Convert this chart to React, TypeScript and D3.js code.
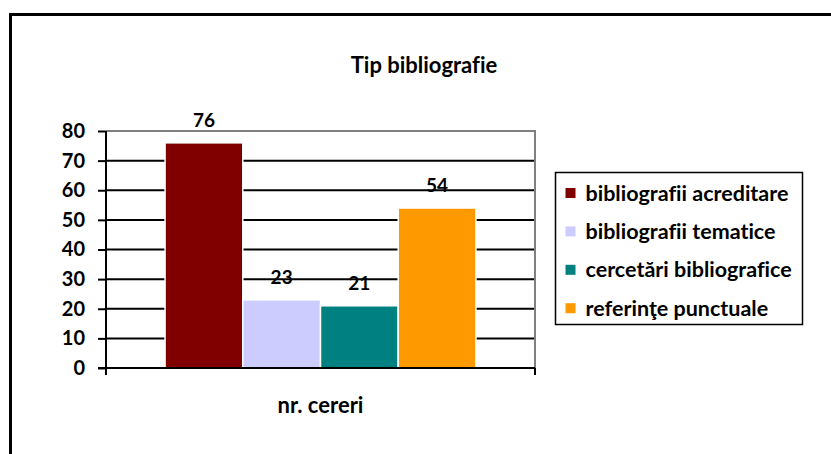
import * as d3 from 'd3';
import React, { useEffect, useRef } from 'react';

const categories = ['nr. cereri'];
const seriesNames = ['bibliografii acreditare', 'bibliografii tematice', 'cercetări bibliografice', 'referinţe punctuale'];
const seriesValues = [76, 23, 21, 54];
const seriesColors = ['#800000', '#CCCCFF', '#008080', '#FF9900'];
const yTicks = [0, 10, 20, 30, 40, 50, 60, 70, 80];

const FONT = 'Lato, "Open Sans", sans-serif';

const App: React.FC = () => {
    const svgRef = useRef<SVGSVGElement | null>(null);

    useEffect(() => {
        const width = 831;
        const height = 454;
        const margin = { top: 131, right: 296, bottom: 86, left: 106 };
        const plotW = width - margin.left - margin.right;
        const plotH = height - margin.top - margin.bottom;

        d3.select(svgRef.current).selectAll('*').remove();

        const svg = d3.select(svgRef.current)
            .attr('width', width)
            .attr('height', height)
            .style('font-family', FONT)
            .style('font-weight', 'bold')
            .style('font-variant-ligatures', 'none');

        // outer frame (runs off the right and bottom edges)
        svg.append('rect')
            .attr('x', 10.5).attr('y', 14.5)
            .attr('width', 900).attr('height', 500)
            .attr('fill', 'white')
            .attr('stroke', '#000')
            .attr('stroke-width', 3);

        svg.append('text')
            .attr('x', 424).attr('y', 73)
            .attr('text-anchor', 'middle')
            .style('font-size', '22px')
            .text('Tip bibliografie');

        const g = svg.append('g').attr('transform', `translate(${margin.left},${margin.top})`);

        const y = d3.scaleLinear().domain([0, 80]).range([plotH, 0]);
        const x0 = d3.scaleBand().domain(categories).range([0, plotW]).paddingInner(0).paddingOuter(0.19);
        const x1 = d3.scaleBand().domain(seriesNames).range([0, x0.bandwidth()]).padding(0);

        // gridlines
        g.append('g')
            .selectAll('line')
            .data(yTicks.filter(t => t > 0 && t < 80))
            .enter()
            .append('line')
            .attr('x1', 0).attr('x2', plotW)
            .attr('y1', d => y(d)).attr('y2', d => y(d))
            .attr('stroke', '#000')
            .attr('stroke-width', 2);

        // plot area border top/right
        g.append('path')
            .attr('d', `M0,${y(80)}H${plotW}V${y(0)}`)
            .attr('fill', 'none')
            .attr('stroke', '#808080')
            .attr('stroke-width', 2);

        // bars
        const cat = g.selectAll('g.cat')
            .data(categories)
            .enter()
            .append('g')
            .attr('transform', d => `translate(${x0(d)},0)`);

        cat.selectAll('rect')
            .data(seriesNames.map((s, i) => ({ s, v: seriesValues[i], c: seriesColors[i] })))
            .enter()
            .append('rect')
            .attr('x', d => x1(d.s)!)
            .attr('y', d => y(d.v))
            .attr('width', x1.bandwidth())
            .attr('height', d => y(0) - y(d.v))
            .attr('fill', d => d.c)
            .attr('stroke', 'white')
            .attr('stroke-width', 1.5);

        cat.selectAll('text')
            .data(seriesNames.map((s, i) => ({ s, v: seriesValues[i] })))
            .enter()
            .append('text')
            .attr('x', d => x1(d.s)! + x1.bandwidth() / 2)
            .attr('y', d => y(d.v) - 16)
            .attr('text-anchor', 'middle')
            .style('font-size', '19px')
            .text(d => d.v);

        // y axis
        const yAxis = g.append('g')
            .call(d3.axisLeft(y).tickValues(yTicks).tickSize(8).tickPadding(13).tickFormat(d3.format('d')));
        yAxis.select('.domain').remove();
        yAxis.selectAll('line').attr('stroke', '#000').attr('stroke-width', 2);
        yAxis.selectAll('text')
            .attr('fill', '#000')
            .style('font-family', FONT)
            .style('font-weight', 'bold')
            .style('font-size', '20px');
        g.append('line')
            .attr('x1', 0).attr('x2', 0)
            .attr('y1', 0).attr('y2', plotH + 7)
            .attr('stroke', '#000').attr('stroke-width', 2);

        // x axis
        g.append('line')
            .attr('x1', -8).attr('x2', plotW)
            .attr('y1', plotH).attr('y2', plotH)
            .attr('stroke', '#000').attr('stroke-width', 2);
        g.append('line')
            .attr('x1', plotW).attr('x2', plotW)
            .attr('y1', plotH).attr('y2', plotH + 7)
            .attr('stroke', '#000').attr('stroke-width', 2);

        g.selectAll('text.cat')
            .data(categories)
            .enter()
            .append('text')
            .attr('class', 'cat')
            .attr('x', d => x0(d)! + x0.bandwidth() / 2)
            .attr('y', plotH + 45)
            .attr('text-anchor', 'middle')
            .style('font-size', '22px')
            .text(d => d);

        // legend
        const legend = svg.append('g').attr('transform', 'translate(555.5,172.5)');
        legend.append('rect')
            .attr('width', 247).attr('height', 152)
            .attr('fill', 'white')
            .attr('stroke', '#000')
            .attr('stroke-width', 1.5);

        const row = legend.selectAll('g.row')
            .data(seriesNames)
            .enter()
            .append('g')
            .attr('transform', (d, i) => `translate(0,${20.5 + i * 38.4})`);

        row.append('rect')
            .attr('x', 10).attr('y', -5)
            .attr('width', 10).attr('height', 10)
            .attr('fill', (d, i) => seriesColors[i]);

        row.append('text')
            .attr('x', 30)
            .attr('dy', '0.35em')
            .style('font-size', '21.5px')
            .text(d => d);
    }, []);

    return <svg ref={svgRef} style={{ position: 'absolute', left: 0, top: 0 }}></svg>;
};

export default App;
